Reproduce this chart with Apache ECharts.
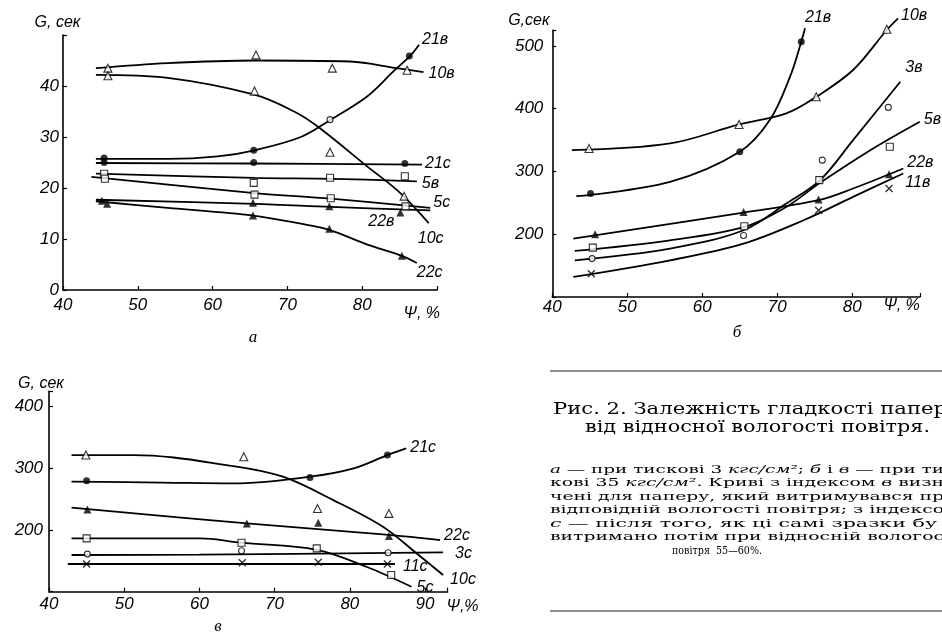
<!DOCTYPE html>
<html><head><meta charset="utf-8">
<script src="https://cdn.jsdelivr.net/npm/echarts@6/dist/echarts.min.js"></script>
<style>html,body{margin:0;padding:0;background:#fff}#c{width:942px;height:639px}</style>
</head><body><div id="c"></div>
<script>
// ---------- Panel а : Ψ, % vs G, сек (3 кгс/см²) ----------
const a_xTicks = [40, 50, 60, 70, 80];
const a_yTicks = [0, 10, 20, 30, 40];
const a_10v_pts = [[46.0, 43.5], [65.8, 46.1], [76.0, 43.5], [86.0, 43.1]];
const a_10v_crv = [[44.4, 43.5], [54.0, 44.5], [65.8, 45.0], [78.4, 44.8], [84.6, 43.5], [88.2, 42.7]];
const a_10c_pts = [[46.0, 42.0], [65.6, 39.0], [75.7, 27.0], [85.6, 18.4]];
const a_10c_crv = [[44.4, 42.2], [54.0, 41.6], [65.6, 38.3], [70.9, 35.0], [74.0, 32.1], [80.7, 24.2], [85.1, 19.0], [88.9, 13.1]];
const a_21v_pts = [[45.5, 25.9], [65.5, 27.4], [86.3, 45.9]];
const a_21v_pts_o = [[75.7, 33.4]];
const a_21v_crv = [[44.4, 25.7], [54.0, 25.7], [60.7, 26.2], [65.6, 27.4], [71.8, 30.0], [75.8, 33.4], [80.7, 38.0], [84.2, 42.9], [86.4, 45.9], [87.6, 48.1]];
const a_21c_pts = [[45.5, 25.0], [65.5, 25.0], [85.7, 24.8]];
const a_21c_crv = [[44.4, 24.9], [65.5, 24.8], [88.0, 24.6]];
const a_5v_pts = [[45.5, 22.8], [65.5, 21.0], [75.7, 22.0], [85.7, 22.3]];
const a_5v_crv = [[44.4, 22.8], [65.6, 22.0], [76.2, 21.8], [87.3, 21.3]];
const a_5c_pts = [[45.6, 21.8], [65.6, 18.7], [75.8, 18.0], [85.8, 16.4]];
const a_5c_crv = [[43.8, 22.2], [65.6, 19.0], [75.8, 17.9], [89.1, 16.1]];
const a_22v_pts = [[45.2, 17.5], [65.4, 17.1], [75.6, 16.4], [85.1, 15.2]];
const a_22v_crv = [[44.4, 17.7], [65.6, 16.9], [75.8, 16.3], [89.1, 15.6]];
const a_22c_pts = [[45.9, 16.9], [65.4, 14.6], [75.6, 12.0], [85.3, 6.7]];
const a_22c_crv = [[44.4, 17.4], [54.0, 16.1], [65.4, 14.6], [71.8, 13.0], [75.6, 11.8], [80.7, 8.9], [85.3, 6.7], [87.3, 5.3]];

// ---------- Panel б : 35 кгс/см², curves "в" ----------
const b_xTicks = [40, 50, 60, 70, 80];
const b_yTicks = [200, 300, 400, 500];
const b_10v_pts = [[44.9, 336.7], [64.9, 375.0], [75.2, 419.1], [84.6, 526.6]];
const b_10v_crv = [[42.6, 334], [55.7, 344.7], [64.9, 375.0], [71.2, 392.6], [75.2, 419.0], [80.1, 461.7], [84.6, 525.5], [86.1, 544]];
const b_21v_pts = [[45.1, 264.9], [65.0, 331.4], [73.2, 506.9]];
const b_21v_crv = [[43.2, 260.6], [55.7, 283.5], [65.0, 331.4], [69.0, 381.9], [71.7, 451.1], [73.2, 506.9], [73.7, 528.2]];
const b_3v_pts = [[45.3, 161.2], [65.5, 197.9], [76.0, 318.1], [84.8, 402.1]];
const b_3v_crv = [[43.0, 158.5], [55.7, 177.1], [65.5, 206.4], [71.2, 248.9], [75.7, 286.2], [80.1, 350], [86.4, 443.1]];
const b_5v_pts = [[45.4, 178.7], [65.6, 212.8], [75.6, 286.2], [85.0, 339.4]];
const b_5v_crv = [[43.0, 173.4], [55.7, 190.4], [65.6, 211.7], [71.2, 243.6], [75.7, 281.9], [82.4, 334], [89.0, 379.3]];
const b_22v_pts = [[45.7, 200.0], [65.5, 235.6], [75.5, 255.3], [84.9, 295.7]];
const b_22v_crv = [[42.8, 193.1], [65.5, 234.6], [75.5, 254.3], [80.1, 272.9], [86.8, 304.8]];
const b_11v_pts = [[45.2, 137.2], [75.5, 238.3], [84.9, 272.9]];
const b_11v_crv = [[42.8, 131.9], [55.7, 158.5], [65.5, 185.1], [73.5, 222.3], [80.1, 259.6], [86.8, 296.8]];

// ---------- Panel в : 35 кгс/см², curves "с" ----------
const c_xTicks = [40, 50, 60, 70, 80, 90];
const c_yTicks = [200, 300, 400];
const c_10c_pts = [[44.9, 321.6], [65.9, 318.9], [75.7, 235.0], [85.2, 227.0]];
const c_10c_crv = [[43.0, 321.6], [51.2, 321.6], [64.5, 303.8], [71.1, 286.5], [77.8, 248.6], [84.4, 205.4], [88.9, 162.0], [92.4, 127.0]];
const c_21c_pts = [[45.0, 280.0], [74.7, 285.4], [85.0, 321.6]];
const c_21c_crv = [[43.0, 278.4], [55.0, 277.0], [64.5, 275.7], [74.7, 286.5], [80.5, 300.0], [85.0, 321.6], [87.5, 332.4]];
const c_22c_pts = [[45.1, 233.5], [66.3, 210.8], [75.8, 211.9], [85.2, 190.3]];
const c_22c_crv = [[43.0, 236.2], [66.3, 210.8], [85.2, 192.0], [92.0, 183.8]];
const c_5c_pts = [[45.0, 186.5], [65.6, 179.5], [75.6, 170.3], [85.5, 127.0]];
const c_5c_crv = [[43.0, 186.5], [60.1, 186.5], [65.6, 179.5], [75.6, 168.0], [82.2, 140.5], [88.2, 108.0]];
const c_3c_pts = [[45.1, 161.0], [65.6, 166.5], [85.1, 163.2]];
const c_3c_crv = [[43.0, 159.5], [60.0, 160.0], [92.4, 163.8]];
const c_11c_pts = [[45.0, 144.9], [65.7, 147.0], [75.8, 147.6], [85.0, 144.9]];
const c_11c_crv = [[42.5, 144.9], [86.0, 144.9]];

// ---------- styles ----------
const MK = {
  triO: { symbol: 'triangle', symbolSize: 8, itemStyle: { color: '#fff', borderColor: '#000', borderWidth: 1.1 } },
  triF: { symbol: 'triangle', symbolSize: 8, itemStyle: { color: '#000' } },
  cirO: { symbol: 'circle', symbolSize: 6, itemStyle: { color: '#fff', borderColor: '#000', borderWidth: 1.1 } },
  cirF: { symbol: 'circle', symbolSize: 7, itemStyle: { color: '#000' } },
  sqO:  { symbol: 'rect', symbolSize: 7, itemStyle: { color: '#fff', borderColor: '#000', borderWidth: 1.1 } },
  x:    { symbol: 'path://M0,0L10,10M10,0L0,10', symbolSize: 7, itemStyle: { color: '#000', borderColor: '#000', borderWidth: 1.4 } }
};
const LBL_FONT = { color: '#000', fontSize: 16, fontStyle: 'italic', fontFamily: 'Liberation Sans' };

function curve(p, name, data, dx, dy) {
  return {
    type: 'line', name, xAxisIndex: p, yAxisIndex: p, data, smooth: 0.35, symbol: 'none',
    clip: false, silent: true, z: 2,
    lineStyle: { color: '#000', width: 1.8 },
    endLabel: Object.assign({ show: true, formatter: name, offset: [dx, dy], distance: 0, align: 'left', verticalAlign: 'middle' }, LBL_FONT)
  };
}
function pts(p, data, kind) {
  return Object.assign({ type: 'scatter', xAxisIndex: p, yAxisIndex: p, data, silent: true, z: 3, clip: false }, MK[kind]);
}

const series = [
  curve(0, '10в', a_10v_crv, 5, 1), curve(0, '10с', a_10c_crv, -11, 15),
  curve(0, '21в', a_21v_crv, 3, -5), curve(0, '21с', a_21c_crv, 3, -1),
  curve(0, '5в', a_5v_crv, 5, 2), curve(0, '5с', a_5c_crv, 3, -5),
  curve(0, '22в', a_22v_crv, -62, 11), curve(0, '22с', a_22c_crv, 0, 10),
  pts(0, a_10v_pts, 'triO'), pts(0, a_10c_pts, 'triO'),
  pts(0, a_21v_pts, 'cirF'), pts(0, a_21v_pts_o, 'cirO'), pts(0, a_21c_pts, 'cirF'),
  pts(0, a_5v_pts, 'sqO'), pts(0, a_5c_pts, 'sqO'),
  pts(0, a_22v_pts, 'triF'), pts(0, a_22c_pts, 'triF'),

  curve(1, '10в', b_10v_crv, 3, -3), curve(1, '21в', b_21v_crv, 0, -11),
  curve(1, '3в', b_3v_crv, 5, -14), curve(1, '5в', b_5v_crv, 4, -2),
  curve(1, '22в', b_22v_crv, 4, -6), curve(1, '11в', b_11v_crv, 2, 9),
  pts(1, b_10v_pts, 'triO'), pts(1, b_21v_pts, 'cirF'), pts(1, b_3v_pts, 'cirO'),
  pts(1, b_5v_pts, 'sqO'), pts(1, b_22v_pts, 'triF'), pts(1, b_11v_pts, 'x'),

  curve(2, '10с', c_10c_crv, 7, 4), curve(2, '21с', c_21c_crv, 4, -1),
  curve(2, '22с', c_22c_crv, 4, -4), curve(2, '5с', c_5c_crv, 5, 1),
  curve(2, '3с', c_3c_crv, 12, 1), curve(2, '11с', c_11c_crv, 8, 3),
  pts(2, c_10c_pts, 'triO'), pts(2, c_21c_pts, 'cirF'), pts(2, c_22c_pts, 'triF'),
  pts(2, c_5c_pts, 'sqO'), pts(2, c_3c_pts, 'cirO'), pts(2, c_11c_pts, 'x')
];

const AX_LINE = { show: true, onZero: false, lineStyle: { color: '#000', width: 1.6 } };
const AX_TICK = { show: true, inside: true, length: 4, lineStyle: { color: '#000', width: 1.2 } };
const TICK_FONT = { color: '#000', fontSize: 17, fontStyle: 'italic', fontFamily: 'Liberation Sans' };
const NAME_FONT = { color: '#000', fontSize: 16, fontStyle: 'italic', fontFamily: 'Liberation Sans' };

function xAx(g, min, max, ticks, name, margin, namePad, nameGap, nameAlign) {
  return {
    type: 'value', gridIndex: g, min, max, interval: 10,
    axisLine: AX_LINE, axisTick: AX_TICK, splitLine: { show: false },
    axisLabel: Object.assign({ margin, formatter: v => ticks.includes(v) ? String(v) : '' }, TICK_FONT),
    name, nameLocation: 'end', nameGap,
    nameTextStyle: Object.assign({ align: nameAlign, verticalAlign: 'top', padding: [namePad, 0, 0, 0] }, NAME_FONT)
  };
}
function yAx(g, min, max, step, ticks, name, margin, shift, nameGap) {
  return {
    type: 'value', gridIndex: g, min, max, interval: step,
    axisLine: AX_LINE, axisTick: AX_TICK, splitLine: { show: false },
    axisLabel: Object.assign({ margin, formatter: v => ticks.includes(v) ? String(v) : '' }, TICK_FONT),
    name, nameLocation: 'end', nameGap,
    nameTextStyle: Object.assign({ align: 'center', padding: [0, shift * 2, 0, 0] }, NAME_FONT)
  };
}

// caption lines (text only)
const capLines = [
  { y: 410, x0: 553, x1: 947, size: 16.5, segs: [['Рис. 2. Залежність гладкості папер', 0]] },
  { y: 428, x0: 585, x1: 930, size: 16.5, segs: [['від відносної вологості повітря.', 0]] },
  { y: 470, x0: 550, x1: 944, size: 11.5, segs: [['а', 1], [' — при тискові 3 ', 0], ['кгс/см²', 1], ['; ', 0], ['б', 1], [' і ', 0], ['в', 1], [' — при ти', 0]] },
  { y: 483.5, x0: 550, x1: 944, size: 11.5, segs: [['кові 35 ', 0], ['кгс/см²', 1], ['. Криві з індексом ', 0], ['в', 1], [' визн', 0]] },
  { y: 497, x0: 550, x1: 944, size: 11.5, segs: [['чені для паперу, який витримувався пр', 0]] },
  { y: 510.5, x0: 550, x1: 944, size: 11.5, segs: [['відповідній вологості повітря; з індексо', 0]] },
  { y: 524, x0: 550, x1: 937, size: 11.5, segs: [['с', 1], [' — після того, як ці самі зразки бу', 0]] },
  { y: 537.5, x0: 550, x1: 944, size: 11.5, segs: [['витримано потім при відносній вологос', 0]] },
  { y: 551, x0: 672, x1: 762, size: 11.5, segs: [['повітря  55—60%.', 0]] }
];
const CAP_FAMILY = 'DejaVu Serif';
const mctx = document.createElement('canvas').getContext('2d');
function measure(t, size, it) {
  mctx.font = (it ? 'italic ' : '') + size + 'px "' + CAP_FAMILY + '"';
  return mctx.measureText(t).width;
}
const graphics = [];
capLines.forEach(L => {
  let w = 0;
  L.segs.forEach(([t, it]) => { w += measure(t, L.size, it); });
  const text = L.segs.map(([t, it]) => it ? '{i|' + t + '}' : t).join('');
  graphics.push({
    type: 'text', x: L.x0, y: L.y, scaleX: (L.x1 - L.x0) / w, silent: true,
    style: {
      text, fill: '#000', fontSize: L.size, fontFamily: CAP_FAMILY, align: 'left', verticalAlign: 'middle',
      rich: { i: { fontStyle: 'italic', fontSize: L.size, fontFamily: CAP_FAMILY, fill: '#000' } }
    }
  });
});
graphics.push({ type: 'line', silent: true, shape: { x1: 550, y1: 371, x2: 942, y2: 371 }, style: { stroke: '#222', lineWidth: 1.2 } });
graphics.push({ type: 'line', silent: true, shape: { x1: 550, y1: 611, x2: 942, y2: 611 }, style: { stroke: '#222', lineWidth: 1.2 } });
[['а', 253, 338], ['б', 737, 333], ['в', 218, 627]].forEach(([t, x, y]) => {
  graphics.push({ type: 'text', x, y, silent: true, style: { text: t, fill: '#000', fontSize: 17, fontStyle: 'italic', fontFamily: 'Liberation Serif', align: 'center', verticalAlign: 'middle' } });
});

const chart = echarts.init(document.getElementById('c'), null, { renderer: 'canvas' });
chart.setOption({
  animation: false,
  backgroundColor: '#fff',
  grid: [
    { left: 63, top: 35, width: 374, height: 255 },
    { left: 552.3, top: 30.3, width: 367.5, height: 266.7 },
    { left: 49, top: 391.3, width: 398.6, height: 200.4 }
  ],
  xAxis: [
    xAx(0, 40, 90, a_xTicks, 'Ψ, %', 7, 16, 3, 'right'),
    xAx(1, 40, 89, b_xTicks, 'Ψ, %', 2, 1, 0, 'right'),
    xAx(2, 40, 93, c_xTicks, 'Ψ,%', 4, 7, -1, 'left')
  ],
  yAxis: [
    yAx(0, 0, 50, 10, a_yTicks, 'G, сек', 4, 5.5, 4),
    yAx(1, 100, 525, 100, b_yTicks, 'G,сек', 9, 23.5, 2),
    yAx(2, 100, 425, 100, c_yTicks, 'G, сек', 6, 8, 0)
  ],
  series,
  graphic: graphics
});
</script>
</body></html>
